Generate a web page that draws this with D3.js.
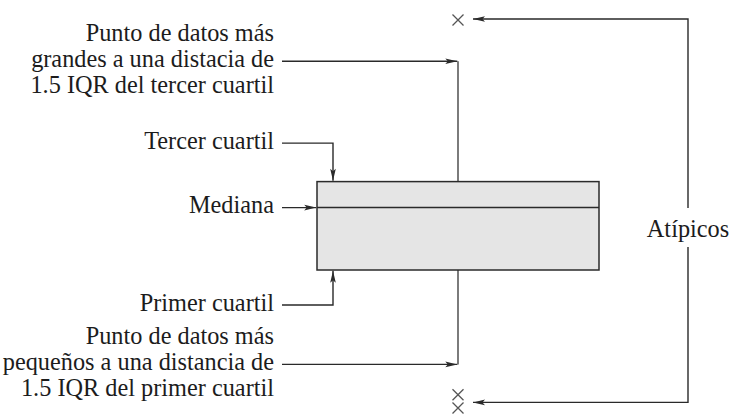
<!DOCTYPE html>
<html><head><meta charset="utf-8">
<script src="https://cdn.jsdelivr.net/npm/d3@7"></script>
</head><body style="margin:0;background:#fff">
<svg id="c" width="732" height="414"></svg>
<script>
// ---- data (schematic box plot) ----
const statKeys   = ["whiskerLow", "q1", "median", "q3", "whiskerHigh"];
const statValues = [12.4, 36.0, 51.6, 58.1, 88.2];
const outlierValues = [98.5, 4.8, 1.5];
const topLabel    = ["Punto de datos más", "grandes a una distacia de", "1.5 IQR del tercer cuartil"];
const bottomLabel = ["Punto de datos más", "pequeños a una distancia de", "1.5 IQR del primer cuartil"];
const q3Label = "Tercer cuartil";
const medianLabel = "Mediana";
const q1Label = "Primer cuartil";
const outlierLabel = "Atípicos";

const stat = k => statValues[statKeys.indexOf(k)];

const FONT = "'Liberation Serif', 'Times New Roman', Tinos, Times, serif";

const svg = d3.select("#c");

// fit the label size so the long line spans ~243px as in the reference
const probe = svg.append("text").attr("font-family", FONT).attr("font-size", 24).text(topLabel[1]);
const pw = probe.node().getComputedTextLength();
probe.remove();
const FS = pw > 0 ? Math.max(20, Math.min(27, 24 * 243 / pw)) : 24;

const y = d3.scaleLinear().domain([0, 100]).range([414, 14]);
const x = d3.scaleLinear().domain([0, 1]).range([317, 599]);
const xc = x(0.5);

const ink = "#2a2a2a";

const defs = svg.append("defs");
defs.append("marker")
  .attr("id", "ah").attr("markerUnits", "userSpaceOnUse")
  .attr("viewBox", "-13 -4 14 8").attr("refX", 0).attr("refY", 0)
  .attr("markerWidth", 14).attr("markerHeight", 8).attr("orient", "auto")
  .append("path").attr("d", "M0,0 L-12,-2.8 L-9.5,0 L-12,2.8 Z").attr("fill", ink);

const line = d3.line();

// whiskers
const gW = svg.append("g").attr("stroke", "#444").attr("stroke-width", 1.4).attr("fill", "none");
gW.append("line").attr("x1", xc).attr("x2", xc).attr("y1", y(stat("whiskerHigh"))).attr("y2", y(stat("q3")));
gW.append("line").attr("x1", xc).attr("x2", xc).attr("y1", y(stat("q1"))).attr("y2", y(stat("whiskerLow")));

// box
svg.append("rect")
  .attr("x", x(0)).attr("y", y(stat("q3")))
  .attr("width", x(1) - x(0)).attr("height", y(stat("q1")) - y(stat("q3")))
  .attr("fill", "#e5e5e5").attr("stroke", ink).attr("stroke-width", 1.5);
svg.append("line")
  .attr("x1", x(0)).attr("x2", x(1))
  .attr("y1", y(stat("median"))).attr("y2", y(stat("median")))
  .attr("stroke", ink).attr("stroke-width", 1.5);

// outliers (×)
const s = 5.5;
svg.append("g").selectAll("path").data(outlierValues).join("path")
  .attr("d", v => `M${xc - s},${y(v) - s}L${xc + s},${y(v) + s}M${xc - s},${y(v) + s}L${xc + s},${y(v) - s}`)
  .attr("stroke", "#555").attr("stroke-width", 1.3).attr("fill", "none");

// annotation arrows
const lx = 282, tx = 274, bendX = 333;
const yWH = y(stat("whiskerHigh")), yWL = y(stat("whiskerLow"));
const yQ3 = y(stat("q3")), yQ1 = y(stat("q1")), yMed = y(stat("median"));
const yQ3lab = yQ3 - 38.5, yQ1lab = yQ1 + 35;
const brX = 688;
const yOutTop = y(outlierValues[0]) - 1;
const yOutBot = (y(outlierValues[1]) + y(outlierValues[2])) / 2 + 1;
const tipX = xc + 15;

const arrows = [
  [[lx, yWH], [xc - 0.7, yWH]],
  [[lx, yQ3lab], [bendX, yQ3lab], [bendX, yQ3 - 0.8]],
  [[lx, yMed], [x(0) - 0.8, yMed]],
  [[lx, yQ1lab], [bendX, yQ1lab], [bendX, yQ1 + 0.8]],
  [[lx, yWL], [xc - 0.7, yWL]],
  [[brX, 208], [brX, yOutTop], [tipX, yOutTop]],
  [[brX, 247], [brX, yOutBot], [tipX, yOutBot]]
];
svg.append("g").selectAll("path").data(arrows).join("path")
  .attr("d", d => line(d))
  .attr("fill", "none").attr("stroke", ink).attr("stroke-width", 1.4)
  .attr("marker-end", "url(#ah)");

// labels
const lh = 26, off = 5.5;
function txt(sel) {
  return sel.attr("font-family", FONT).attr("font-size", FS).attr("fill", "#1c1c1c");
}
function block(lines, midY) {
  txt(svg.append("g").selectAll("text").data(lines).join("text"))
    .attr("x", tx).attr("y", (d, i) => midY + off + (i - 1) * lh)
    .attr("text-anchor", "end").text(d => d);
}
block(topLabel, yWH);
block(bottomLabel, yWL);
[[q3Label, yQ3lab], [medianLabel, yMed], [q1Label, yQ1lab]].forEach(([t, yy]) => {
  txt(svg.append("text")).attr("x", tx).attr("y", yy + off).attr("text-anchor", "end").text(t);
});
txt(svg.append("text")).attr("x", brX).attr("y", 237).attr("text-anchor", "middle").text(outlierLabel);
</script>
</body></html>
